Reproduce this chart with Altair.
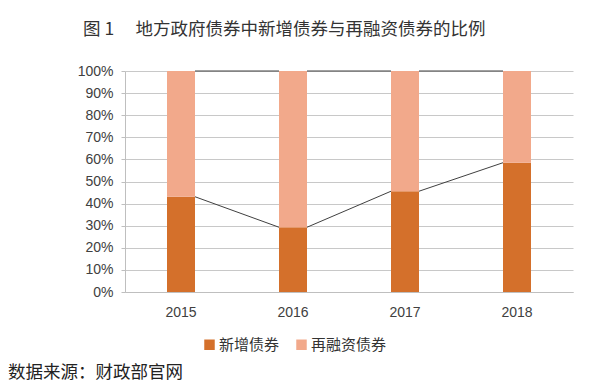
import altair as alt
import pandas as pd

years = ["2015", "2016", "2017", "2018"]
new_share = [0.431, 0.293, 0.456, 0.585]
series_names = ["新增债券", "再融资债券"]
colors = ["#D4702B", "#F2A98B"]
y_ticks = [0, 0.1, 0.2, 0.3, 0.4, 0.5, 0.6, 0.7, 0.8, 0.9, 1.0]

rows = []
for y, v in zip(years, new_share):
    rows.append({"year": y, "series": series_names[0], "value": v, "idx": 0})
    rows.append({"year": y, "series": series_names[1], "value": 1 - v, "idx": 1})
bars_df = pd.DataFrame(rows)

seg = []
for i in range(len(years) - 1):
    seg.append({"year": years[i], "year2": years[i + 1], "v": new_share[i], "v2": new_share[i + 1]})
    seg.append({"year": years[i], "year2": years[i + 1], "v": 1.0, "v2": 1.0})
seg_df = pd.DataFrame(seg)

FONT = "Liberation Sans"
CJK = "Noto Sans CJK SC"

xscale = alt.Scale(domain=years, paddingInner=0.75, paddingOuter=0.375)
yscale = alt.Scale(domain=[0, 1], nice=False)

xaxis = alt.Axis(title=None, labelAngle=0, labelFont=FONT, labelFontSize=14,
                 labelColor="#404040", ticks=False, labelPadding=13,
                 domainColor="#BFBFBF", grid=False)
yaxis = alt.Axis(title=None, values=y_ticks, format=".0%", labelFont=FONT,
                 labelFontSize=14, labelColor="#404040", tickSize=4,
                 tickColor="#BFBFBF", labelPadding=8, domainColor="#BFBFBF",
                 gridColor="#C8C8C8", labelOverlap=False)

bars = alt.Chart(bars_df).mark_bar(size=28).encode(
    x=alt.X("year:N", scale=xscale, sort=years, axis=xaxis),
    y=alt.Y("value:Q", stack="zero", scale=yscale, axis=yaxis),
    color=alt.Color("series:N", scale=alt.Scale(domain=series_names, range=colors),
                    legend=alt.Legend(title=None, orient="none", direction="horizontal",
                                      legendX=77, legendY=266, symbolType="square",
                                      symbolSize=110, symbolStrokeWidth=0,
                                      labelFont=CJK, labelFontSize=15, labelColor="#333333",
                                      labelOffset=2, columnPadding=14)),
    order=alt.Order("idx:Q"),
)

lines = alt.Chart(seg_df).mark_rule(color="#404040", strokeWidth=1, xOffset=14, x2Offset=-14).encode(
    x=alt.X("year:N", scale=xscale, sort=years, axis=xaxis),
    x2="year2:N",
    y=alt.Y("v:Q", scale=yscale, axis=yaxis),
    y2="v2:Q",
)

source = alt.Chart(pd.DataFrame({"t": ["数据来源：财政部官网"]})).mark_text(
    align="left", baseline="middle", font=CJK, fontSize=17.5, color="#222222"
).encode(x=alt.value(-117), y=alt.value(302), text="t:N")

chart = alt.layer(bars, lines, source).properties(
    width=448, height=221,
    title=alt.TitleParams("图 1　 地方政府债券中新增债券与再融资债券的比例", font=CJK, fontSize=17.5,
                          fontWeight="normal", color="#333333", anchor="start", frame="group",
                          dx=-42, offset=26),
    autosize=alt.AutoSizeParams(type="none"),
    padding={"left": 117, "top": 63, "right": 18, "bottom": 92},
).configure_view(stroke=None)

chart.save("out.html", embed_options={"renderer": "svg", "actions": False})
